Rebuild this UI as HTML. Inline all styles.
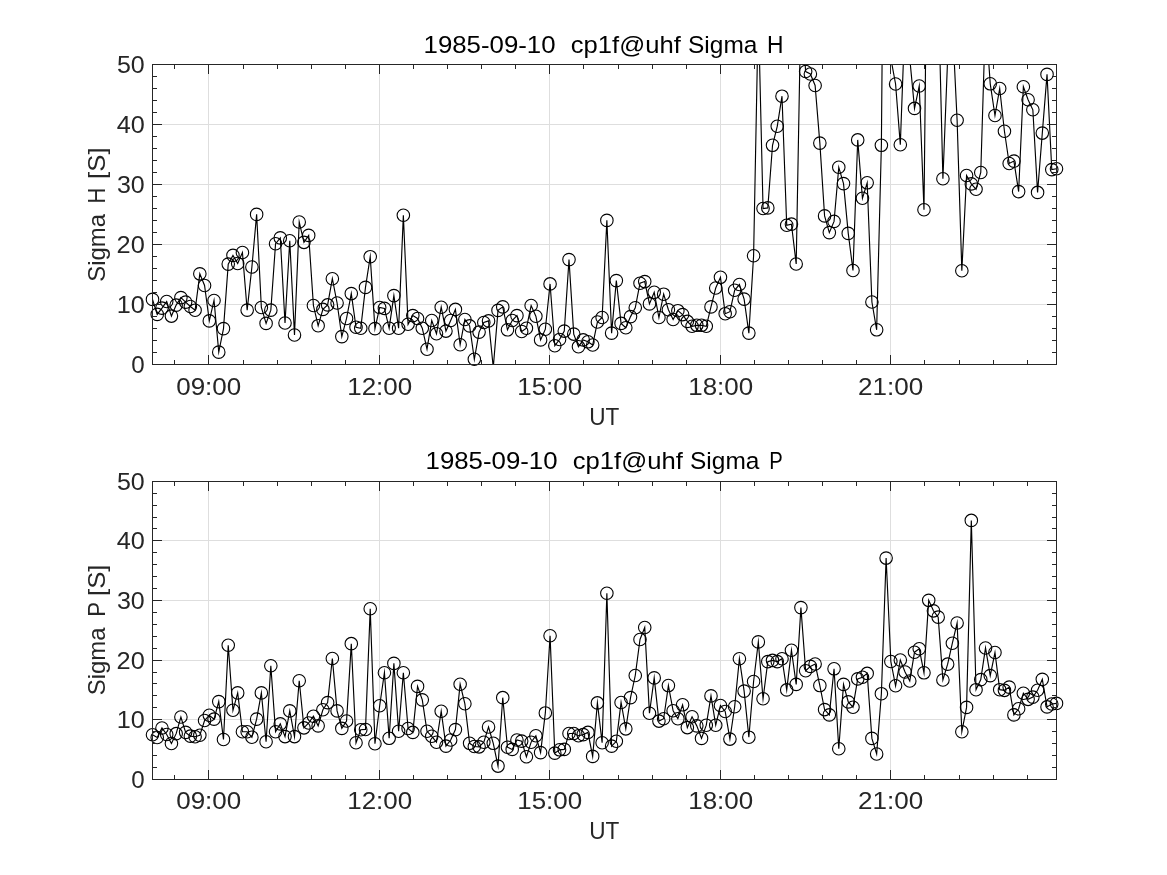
<!DOCTYPE html>
<html><head><meta charset="utf-8"><style>
html,body{margin:0;padding:0;background:#fff;}
svg{display:block;font-family:"Liberation Sans", sans-serif;will-change:transform;}
</style></head><body>
<svg width="1167" height="875" viewBox="0 0 1167 875">
<defs>
<clipPath id="c1"><rect x="152.5" y="64.5" width="904.0" height="300"/></clipPath>
<clipPath id="c2"><rect x="152.5" y="481.5" width="904.0" height="298"/></clipPath>
</defs>
<rect width="1167" height="875" fill="#fff"/>
<path d="M208.50 64.5V364.5M379.50 64.5V364.5M549.50 64.5V364.5M720.50 64.5V364.5M890.50 64.5V364.5M152.5 304.50H1056.5M152.5 244.50H1056.5M152.5 184.50H1056.5M152.5 124.50H1056.5" stroke="#dedede" stroke-width="1" fill="none"/>
<g clip-path="url(#c1)"><polyline points="152.50,299.40 157.23,314.40 161.97,308.10 166.70,301.50 171.43,316.08 176.16,305.10 180.90,297.60 185.63,302.10 190.36,306.48 195.10,310.20 199.83,273.84 204.56,285.48 209.30,320.88 214.03,300.48 218.76,352.14 223.49,328.62 228.23,264.12 232.96,255.36 237.69,263.52 242.43,252.48 247.16,310.14 251.89,267.06 256.63,214.38 261.36,307.44 266.09,323.40 270.82,310.14 275.56,243.72 280.29,237.90 285.02,322.98 289.76,240.78 294.49,334.98 299.22,221.94 303.96,242.34 308.69,235.38 313.42,305.52 318.15,325.68 322.89,309.42 327.62,304.92 332.35,278.70 337.09,303.00 341.82,336.60 346.55,318.48 351.29,293.58 356.02,327.30 360.75,328.20 365.48,287.40 370.22,256.68 374.95,328.62 379.68,307.44 384.42,308.40 389.15,328.20 393.88,295.62 398.62,328.20 403.35,215.22 408.08,324.30 412.81,315.60 417.55,318.48 422.28,328.20 427.01,349.20 431.75,320.52 436.48,333.72 441.21,307.20 445.95,331.08 450.68,320.52 455.41,309.42 460.14,344.70 464.88,319.50 469.61,325.92 474.34,359.28 479.08,332.10 483.81,322.50 488.54,320.88 493.27,367.50 498.01,310.38 502.74,306.90 507.47,329.82 512.21,320.52 516.94,315.60 521.67,331.50 526.41,328.20 531.14,305.52 535.87,316.20 540.60,339.90 545.34,329.22 550.07,283.92 554.80,345.72 559.54,339.48 564.27,331.08 569.00,259.62 573.74,334.08 578.47,346.68 583.20,339.90 587.93,341.82 592.67,345.00 597.40,322.02 602.13,317.52 606.87,220.38 611.60,333.12 616.33,280.62 621.07,323.40 625.80,327.78 630.53,316.62 635.26,307.80 640.00,283.20 644.73,281.58 649.46,303.90 654.20,292.32 658.93,317.52 663.66,294.18 668.40,309.78 673.13,319.50 677.86,310.68 682.59,314.58 687.33,321.42 692.06,326.28 696.79,325.32 701.53,325.32 706.26,326.28 710.99,306.90 715.73,288.00 720.46,277.32 725.19,313.68 729.92,311.70 734.66,290.28 739.39,284.52 744.12,299.10 748.86,333.12 753.59,255.78 758.32,10.50 763.05,208.50 767.79,207.90 772.52,145.32 777.25,126.30 781.99,96.18 786.72,225.30 791.45,224.10 796.19,264.00 800.92,4.50 805.65,71.52 810.38,73.98 815.12,85.50 819.85,143.10 824.58,215.88 829.32,232.62 834.05,221.40 838.78,167.28 843.52,183.60 848.25,233.40 852.98,270.48 857.71,139.92 862.45,198.30 867.18,182.82 871.91,301.98 876.65,329.82 881.38,145.32 886.11,-415.50 890.85,58.50 895.58,84.00 900.31,144.78 905.04,16.50 909.78,58.50 914.51,108.42 919.24,85.98 923.98,209.70 928.71,-235.50 933.44,-115.50 938.18,-13.50 942.91,178.80 947.64,58.50 952.37,22.50 957.11,120.30 961.84,270.78 966.57,175.50 971.31,183.90 976.04,189.30 980.77,172.50 985.51,16.50 990.24,83.82 994.97,115.50 999.70,88.50 1004.44,131.22 1009.17,163.50 1013.90,161.10 1018.64,191.58 1023.37,86.70 1028.10,99.72 1032.84,109.80 1037.57,192.42 1042.30,133.08 1047.03,74.40 1051.77,169.62 1056.50,168.72" fill="none" stroke="#000" stroke-width="1.15" stroke-linejoin="miter" stroke-miterlimit="10"/></g>
<g fill="none" stroke="#000" stroke-width="1.1"><circle cx="152.50" cy="299.40" r="6.25"/><circle cx="157.23" cy="314.40" r="6.25"/><circle cx="161.97" cy="308.10" r="6.25"/><circle cx="166.70" cy="301.50" r="6.25"/><circle cx="171.43" cy="316.08" r="6.25"/><circle cx="176.16" cy="305.10" r="6.25"/><circle cx="180.90" cy="297.60" r="6.25"/><circle cx="185.63" cy="302.10" r="6.25"/><circle cx="190.36" cy="306.48" r="6.25"/><circle cx="195.10" cy="310.20" r="6.25"/><circle cx="199.83" cy="273.84" r="6.25"/><circle cx="204.56" cy="285.48" r="6.25"/><circle cx="209.30" cy="320.88" r="6.25"/><circle cx="214.03" cy="300.48" r="6.25"/><circle cx="218.76" cy="352.14" r="6.25"/><circle cx="223.49" cy="328.62" r="6.25"/><circle cx="228.23" cy="264.12" r="6.25"/><circle cx="232.96" cy="255.36" r="6.25"/><circle cx="237.69" cy="263.52" r="6.25"/><circle cx="242.43" cy="252.48" r="6.25"/><circle cx="247.16" cy="310.14" r="6.25"/><circle cx="251.89" cy="267.06" r="6.25"/><circle cx="256.63" cy="214.38" r="6.25"/><circle cx="261.36" cy="307.44" r="6.25"/><circle cx="266.09" cy="323.40" r="6.25"/><circle cx="270.82" cy="310.14" r="6.25"/><circle cx="275.56" cy="243.72" r="6.25"/><circle cx="280.29" cy="237.90" r="6.25"/><circle cx="285.02" cy="322.98" r="6.25"/><circle cx="289.76" cy="240.78" r="6.25"/><circle cx="294.49" cy="334.98" r="6.25"/><circle cx="299.22" cy="221.94" r="6.25"/><circle cx="303.96" cy="242.34" r="6.25"/><circle cx="308.69" cy="235.38" r="6.25"/><circle cx="313.42" cy="305.52" r="6.25"/><circle cx="318.15" cy="325.68" r="6.25"/><circle cx="322.89" cy="309.42" r="6.25"/><circle cx="327.62" cy="304.92" r="6.25"/><circle cx="332.35" cy="278.70" r="6.25"/><circle cx="337.09" cy="303.00" r="6.25"/><circle cx="341.82" cy="336.60" r="6.25"/><circle cx="346.55" cy="318.48" r="6.25"/><circle cx="351.29" cy="293.58" r="6.25"/><circle cx="356.02" cy="327.30" r="6.25"/><circle cx="360.75" cy="328.20" r="6.25"/><circle cx="365.48" cy="287.40" r="6.25"/><circle cx="370.22" cy="256.68" r="6.25"/><circle cx="374.95" cy="328.62" r="6.25"/><circle cx="379.68" cy="307.44" r="6.25"/><circle cx="384.42" cy="308.40" r="6.25"/><circle cx="389.15" cy="328.20" r="6.25"/><circle cx="393.88" cy="295.62" r="6.25"/><circle cx="398.62" cy="328.20" r="6.25"/><circle cx="403.35" cy="215.22" r="6.25"/><circle cx="408.08" cy="324.30" r="6.25"/><circle cx="412.81" cy="315.60" r="6.25"/><circle cx="417.55" cy="318.48" r="6.25"/><circle cx="422.28" cy="328.20" r="6.25"/><circle cx="427.01" cy="349.20" r="6.25"/><circle cx="431.75" cy="320.52" r="6.25"/><circle cx="436.48" cy="333.72" r="6.25"/><circle cx="441.21" cy="307.20" r="6.25"/><circle cx="445.95" cy="331.08" r="6.25"/><circle cx="450.68" cy="320.52" r="6.25"/><circle cx="455.41" cy="309.42" r="6.25"/><circle cx="460.14" cy="344.70" r="6.25"/><circle cx="464.88" cy="319.50" r="6.25"/><circle cx="469.61" cy="325.92" r="6.25"/><circle cx="474.34" cy="359.28" r="6.25"/><circle cx="479.08" cy="332.10" r="6.25"/><circle cx="483.81" cy="322.50" r="6.25"/><circle cx="488.54" cy="320.88" r="6.25"/><circle cx="498.01" cy="310.38" r="6.25"/><circle cx="502.74" cy="306.90" r="6.25"/><circle cx="507.47" cy="329.82" r="6.25"/><circle cx="512.21" cy="320.52" r="6.25"/><circle cx="516.94" cy="315.60" r="6.25"/><circle cx="521.67" cy="331.50" r="6.25"/><circle cx="526.41" cy="328.20" r="6.25"/><circle cx="531.14" cy="305.52" r="6.25"/><circle cx="535.87" cy="316.20" r="6.25"/><circle cx="540.60" cy="339.90" r="6.25"/><circle cx="545.34" cy="329.22" r="6.25"/><circle cx="550.07" cy="283.92" r="6.25"/><circle cx="554.80" cy="345.72" r="6.25"/><circle cx="559.54" cy="339.48" r="6.25"/><circle cx="564.27" cy="331.08" r="6.25"/><circle cx="569.00" cy="259.62" r="6.25"/><circle cx="573.74" cy="334.08" r="6.25"/><circle cx="578.47" cy="346.68" r="6.25"/><circle cx="583.20" cy="339.90" r="6.25"/><circle cx="587.93" cy="341.82" r="6.25"/><circle cx="592.67" cy="345.00" r="6.25"/><circle cx="597.40" cy="322.02" r="6.25"/><circle cx="602.13" cy="317.52" r="6.25"/><circle cx="606.87" cy="220.38" r="6.25"/><circle cx="611.60" cy="333.12" r="6.25"/><circle cx="616.33" cy="280.62" r="6.25"/><circle cx="621.07" cy="323.40" r="6.25"/><circle cx="625.80" cy="327.78" r="6.25"/><circle cx="630.53" cy="316.62" r="6.25"/><circle cx="635.26" cy="307.80" r="6.25"/><circle cx="640.00" cy="283.20" r="6.25"/><circle cx="644.73" cy="281.58" r="6.25"/><circle cx="649.46" cy="303.90" r="6.25"/><circle cx="654.20" cy="292.32" r="6.25"/><circle cx="658.93" cy="317.52" r="6.25"/><circle cx="663.66" cy="294.18" r="6.25"/><circle cx="668.40" cy="309.78" r="6.25"/><circle cx="673.13" cy="319.50" r="6.25"/><circle cx="677.86" cy="310.68" r="6.25"/><circle cx="682.59" cy="314.58" r="6.25"/><circle cx="687.33" cy="321.42" r="6.25"/><circle cx="692.06" cy="326.28" r="6.25"/><circle cx="696.79" cy="325.32" r="6.25"/><circle cx="701.53" cy="325.32" r="6.25"/><circle cx="706.26" cy="326.28" r="6.25"/><circle cx="710.99" cy="306.90" r="6.25"/><circle cx="715.73" cy="288.00" r="6.25"/><circle cx="720.46" cy="277.32" r="6.25"/><circle cx="725.19" cy="313.68" r="6.25"/><circle cx="729.92" cy="311.70" r="6.25"/><circle cx="734.66" cy="290.28" r="6.25"/><circle cx="739.39" cy="284.52" r="6.25"/><circle cx="744.12" cy="299.10" r="6.25"/><circle cx="748.86" cy="333.12" r="6.25"/><circle cx="753.59" cy="255.78" r="6.25"/><circle cx="763.05" cy="208.50" r="6.25"/><circle cx="767.79" cy="207.90" r="6.25"/><circle cx="772.52" cy="145.32" r="6.25"/><circle cx="777.25" cy="126.30" r="6.25"/><circle cx="781.99" cy="96.18" r="6.25"/><circle cx="786.72" cy="225.30" r="6.25"/><circle cx="791.45" cy="224.10" r="6.25"/><circle cx="796.19" cy="264.00" r="6.25"/><circle cx="805.65" cy="71.52" r="6.25"/><circle cx="810.38" cy="73.98" r="6.25"/><circle cx="815.12" cy="85.50" r="6.25"/><circle cx="819.85" cy="143.10" r="6.25"/><circle cx="824.58" cy="215.88" r="6.25"/><circle cx="829.32" cy="232.62" r="6.25"/><circle cx="834.05" cy="221.40" r="6.25"/><circle cx="838.78" cy="167.28" r="6.25"/><circle cx="843.52" cy="183.60" r="6.25"/><circle cx="848.25" cy="233.40" r="6.25"/><circle cx="852.98" cy="270.48" r="6.25"/><circle cx="857.71" cy="139.92" r="6.25"/><circle cx="862.45" cy="198.30" r="6.25"/><circle cx="867.18" cy="182.82" r="6.25"/><circle cx="871.91" cy="301.98" r="6.25"/><circle cx="876.65" cy="329.82" r="6.25"/><circle cx="881.38" cy="145.32" r="6.25"/><circle cx="895.58" cy="84.00" r="6.25"/><circle cx="900.31" cy="144.78" r="6.25"/><circle cx="914.51" cy="108.42" r="6.25"/><circle cx="919.24" cy="85.98" r="6.25"/><circle cx="923.98" cy="209.70" r="6.25"/><circle cx="942.91" cy="178.80" r="6.25"/><circle cx="957.11" cy="120.30" r="6.25"/><circle cx="961.84" cy="270.78" r="6.25"/><circle cx="966.57" cy="175.50" r="6.25"/><circle cx="971.31" cy="183.90" r="6.25"/><circle cx="976.04" cy="189.30" r="6.25"/><circle cx="980.77" cy="172.50" r="6.25"/><circle cx="990.24" cy="83.82" r="6.25"/><circle cx="994.97" cy="115.50" r="6.25"/><circle cx="999.70" cy="88.50" r="6.25"/><circle cx="1004.44" cy="131.22" r="6.25"/><circle cx="1009.17" cy="163.50" r="6.25"/><circle cx="1013.90" cy="161.10" r="6.25"/><circle cx="1018.64" cy="191.58" r="6.25"/><circle cx="1023.37" cy="86.70" r="6.25"/><circle cx="1028.10" cy="99.72" r="6.25"/><circle cx="1032.84" cy="109.80" r="6.25"/><circle cx="1037.57" cy="192.42" r="6.25"/><circle cx="1042.30" cy="133.08" r="6.25"/><circle cx="1047.03" cy="74.40" r="6.25"/><circle cx="1051.77" cy="169.62" r="6.25"/><circle cx="1056.50" cy="168.72" r="6.25"/></g>
<path d="M152.5 64.5H1056.5V364.5H152.5V64.5M152.5 364.50h9M1056.5 364.50h-9M152.5 352.50h4M1056.5 352.50h-4M152.5 340.50h4M1056.5 340.50h-4M152.5 328.50h4M1056.5 328.50h-4M152.5 316.50h4M1056.5 316.50h-4M152.5 304.50h9M1056.5 304.50h-9M152.5 292.50h4M1056.5 292.50h-4M152.5 280.50h4M1056.5 280.50h-4M152.5 268.50h4M1056.5 268.50h-4M152.5 256.50h4M1056.5 256.50h-4M152.5 244.50h9M1056.5 244.50h-9M152.5 232.50h4M1056.5 232.50h-4M152.5 220.50h4M1056.5 220.50h-4M152.5 208.50h4M1056.5 208.50h-4M152.5 196.50h4M1056.5 196.50h-4M152.5 184.50h9M1056.5 184.50h-9M152.5 172.50h4M1056.5 172.50h-4M152.5 160.50h4M1056.5 160.50h-4M152.5 148.50h4M1056.5 148.50h-4M152.5 136.50h4M1056.5 136.50h-4M152.5 124.50h9M1056.5 124.50h-9M152.5 112.50h4M1056.5 112.50h-4M152.5 100.50h4M1056.5 100.50h-4M152.5 88.50h4M1056.5 88.50h-4M152.5 76.50h4M1056.5 76.50h-4M152.5 64.50h9M1056.5 64.50h-9M208.50 364.5v-9M208.50 64.5v9M379.50 364.5v-9M379.50 64.5v9M549.50 364.5v-9M549.50 64.5v9M720.50 364.5v-9M720.50 64.5v9M890.50 364.5v-9M890.50 64.5v9M174.50 364.5v-4M174.50 64.5v4M243.50 364.5v-4M243.50 64.5v4M277.50 364.5v-4M277.50 64.5v4M311.50 364.5v-4M311.50 64.5v4M345.50 364.5v-4M345.50 64.5v4M413.50 364.5v-4M413.50 64.5v4M447.50 364.5v-4M447.50 64.5v4M481.50 364.5v-4M481.50 64.5v4M515.50 364.5v-4M515.50 64.5v4M583.50 364.5v-4M583.50 64.5v4M618.50 364.5v-4M618.50 64.5v4M652.50 364.5v-4M652.50 64.5v4M686.50 364.5v-4M686.50 64.5v4M754.50 364.5v-4M754.50 64.5v4M788.50 364.5v-4M788.50 64.5v4M822.50 364.5v-4M822.50 64.5v4M856.50 364.5v-4M856.50 64.5v4M924.50 364.5v-4M924.50 64.5v4M959.50 364.5v-4M959.50 64.5v4M993.50 364.5v-4M993.50 64.5v4M1027.50 364.5v-4M1027.50 64.5v4" stroke="#262626" stroke-width="1" fill="none" stroke-linecap="square"/>
<text x="131.30" y="372.60" font-size="23.7" fill="#262626" textLength="13.43" lengthAdjust="spacingAndGlyphs">0</text>
<text x="116.76" y="312.60" font-size="23.7" fill="#262626" textLength="28.00" lengthAdjust="spacingAndGlyphs">10</text>
<text x="116.56" y="252.60" font-size="23.7" fill="#262626" textLength="28.21" lengthAdjust="spacingAndGlyphs">20</text>
<text x="116.95" y="192.60" font-size="23.7" fill="#262626" textLength="27.80" lengthAdjust="spacingAndGlyphs">30</text>
<text x="116.70" y="132.60" font-size="23.7" fill="#262626" textLength="28.07" lengthAdjust="spacingAndGlyphs">40</text>
<text x="116.93" y="72.60" font-size="23.7" fill="#262626" textLength="27.83" lengthAdjust="spacingAndGlyphs">50</text>
<text x="176.20" y="394.70" font-size="23.7" fill="#262626" textLength="64.99" lengthAdjust="spacingAndGlyphs">09:00</text>
<text x="347.24" y="394.70" font-size="23.7" fill="#262626" textLength="64.95" lengthAdjust="spacingAndGlyphs">12:00</text>
<text x="517.24" y="394.70" font-size="23.7" fill="#262626" textLength="64.95" lengthAdjust="spacingAndGlyphs">15:00</text>
<text x="688.24" y="394.70" font-size="23.7" fill="#262626" textLength="64.95" lengthAdjust="spacingAndGlyphs">18:00</text>
<text x="858.07" y="394.70" font-size="23.7" fill="#262626" textLength="65.12" lengthAdjust="spacingAndGlyphs">21:00</text>
<text x="589.26" y="424.60" font-size="23.7" fill="#262626" textLength="30.06" lengthAdjust="spacingAndGlyphs">UT</text>
<text x="423.55" y="52.70" font-size="23.7" fill="#000" textLength="132.02" lengthAdjust="spacingAndGlyphs">1985-09-10</text>
<text x="570.82" y="52.70" font-size="23.7" fill="#000" textLength="109.97" lengthAdjust="spacingAndGlyphs">cp1f@uhf</text>
<text x="688.07" y="52.70" font-size="23.7" fill="#000" textLength="69.30" lengthAdjust="spacingAndGlyphs">Sigma</text>
<text x="767.10" y="52.70" font-size="23.7" fill="#000" textLength="16.45" lengthAdjust="spacingAndGlyphs">H</text>
<text transform="rotate(-90)" x="-281.69" y="105.00" font-size="23.7" fill="#262626" textLength="67.79" lengthAdjust="spacingAndGlyphs">Sigma</text>
<text transform="rotate(-90)" x="-203.41" y="105.00" font-size="23.7" fill="#262626" textLength="15.90" lengthAdjust="spacingAndGlyphs">H</text>
<text transform="rotate(-90)" x="-178.93" y="105.00" font-size="23.7" fill="#262626" textLength="31.47" lengthAdjust="spacingAndGlyphs">[S]</text>
<path d="M208.50 481.5V779.5M379.50 481.5V779.5M549.50 481.5V779.5M720.50 481.5V779.5M890.50 481.5V779.5M152.5 719.50H1056.5M152.5 660.50H1056.5M152.5 600.50H1056.5M152.5 540.50H1056.5" stroke="#dedede" stroke-width="1" fill="none"/>
<g clip-path="url(#c2)"><polyline points="152.50,734.80 157.23,737.54 161.97,727.95 166.70,734.50 171.43,743.50 176.16,733.67 180.90,717.04 185.63,732.36 190.36,736.17 195.10,736.77 199.83,735.22 204.56,720.50 209.30,715.19 214.03,719.13 218.76,701.60 223.49,739.51 228.23,645.28 232.96,710.30 237.69,692.90 242.43,731.70 247.16,731.70 251.89,737.18 256.63,719.13 261.36,692.90 266.09,741.77 270.82,665.72 275.56,731.70 280.29,723.89 285.02,736.59 289.76,710.90 294.49,736.59 299.22,680.80 303.96,727.83 308.69,723.00 313.42,716.20 318.15,725.86 322.89,709.77 327.62,702.62 332.35,658.51 337.09,710.90 341.82,728.42 346.55,720.97 351.29,643.67 356.02,742.79 360.75,729.79 365.48,729.44 370.22,608.69 374.95,743.74 379.68,705.72 384.42,672.70 389.15,738.32 393.88,663.40 398.62,731.28 403.35,672.70 408.08,728.48 412.81,732.42 417.55,686.40 422.28,699.87 427.01,731.28 431.75,736.29 436.48,742.19 441.21,711.20 445.95,746.12 450.68,739.99 455.41,729.61 460.14,684.20 464.88,703.81 469.61,743.32 474.34,746.48 479.08,746.84 483.81,742.19 488.54,726.99 493.27,743.32 498.01,766.09 502.74,697.67 507.47,747.20 512.21,749.40 516.94,739.99 521.67,741.12 526.41,756.79 531.14,742.19 535.87,735.69 540.60,752.62 545.34,712.93 550.07,635.80 554.80,753.10 559.54,749.82 564.27,749.40 569.00,733.49 573.74,733.49 578.47,735.69 583.20,734.62 587.93,732.42 592.67,756.38 597.40,702.91 602.13,742.73 606.87,593.19 611.60,746.12 616.33,741.30 621.07,702.44 625.80,728.84 630.53,697.61 635.26,675.50 640.00,639.50 644.73,627.52 649.46,713.22 654.20,677.88 658.93,721.09 663.66,718.71 668.40,685.57 673.13,710.78 677.86,718.71 682.59,704.82 687.33,727.59 692.06,716.80 696.79,725.86 701.53,738.38 706.26,725.20 710.99,695.88 715.73,725.20 720.46,705.48 725.19,711.50 729.92,739.09 734.66,706.73 739.39,658.69 744.12,691.11 748.86,737.18 753.59,681.52 758.32,641.88 763.05,698.80 767.79,661.61 772.52,660.42 777.25,661.61 781.99,658.69 786.72,689.92 791.45,650.29 796.19,684.38 800.92,607.61 805.65,670.73 810.38,666.38 815.12,664.00 819.85,685.57 824.58,709.59 829.32,714.89 834.05,668.82 838.78,748.69 843.52,684.38 848.25,701.90 852.98,707.21 857.71,678.90 862.45,677.23 867.18,673.41 871.91,738.38 876.65,753.99 881.38,693.68 886.11,558.09 890.85,661.49 895.58,685.81 900.31,660.00 905.04,672.04 909.78,681.04 914.51,652.19 919.24,648.80 923.98,672.82 928.71,600.34 933.44,610.83 938.18,617.15 942.91,679.97 947.64,664.17 952.37,643.19 957.11,623.05 961.84,731.70 966.57,707.38 971.31,520.42 976.04,689.68 980.77,679.61 985.51,647.96 990.24,675.62 994.97,652.55 999.70,689.68 1004.44,690.34 1009.17,687.12 1013.90,714.89 1018.64,708.75 1023.37,693.20 1028.10,699.34 1032.84,697.13 1037.57,690.28 1042.30,679.37 1047.03,706.91 1051.77,703.99 1056.50,703.39" fill="none" stroke="#000" stroke-width="1.15" stroke-linejoin="miter" stroke-miterlimit="10"/></g>
<g fill="none" stroke="#000" stroke-width="1.1"><circle cx="152.50" cy="734.80" r="6.25"/><circle cx="157.23" cy="737.54" r="6.25"/><circle cx="161.97" cy="727.95" r="6.25"/><circle cx="166.70" cy="734.50" r="6.25"/><circle cx="171.43" cy="743.50" r="6.25"/><circle cx="176.16" cy="733.67" r="6.25"/><circle cx="180.90" cy="717.04" r="6.25"/><circle cx="185.63" cy="732.36" r="6.25"/><circle cx="190.36" cy="736.17" r="6.25"/><circle cx="195.10" cy="736.77" r="6.25"/><circle cx="199.83" cy="735.22" r="6.25"/><circle cx="204.56" cy="720.50" r="6.25"/><circle cx="209.30" cy="715.19" r="6.25"/><circle cx="214.03" cy="719.13" r="6.25"/><circle cx="218.76" cy="701.60" r="6.25"/><circle cx="223.49" cy="739.51" r="6.25"/><circle cx="228.23" cy="645.28" r="6.25"/><circle cx="232.96" cy="710.30" r="6.25"/><circle cx="237.69" cy="692.90" r="6.25"/><circle cx="242.43" cy="731.70" r="6.25"/><circle cx="247.16" cy="731.70" r="6.25"/><circle cx="251.89" cy="737.18" r="6.25"/><circle cx="256.63" cy="719.13" r="6.25"/><circle cx="261.36" cy="692.90" r="6.25"/><circle cx="266.09" cy="741.77" r="6.25"/><circle cx="270.82" cy="665.72" r="6.25"/><circle cx="275.56" cy="731.70" r="6.25"/><circle cx="280.29" cy="723.89" r="6.25"/><circle cx="285.02" cy="736.59" r="6.25"/><circle cx="289.76" cy="710.90" r="6.25"/><circle cx="294.49" cy="736.59" r="6.25"/><circle cx="299.22" cy="680.80" r="6.25"/><circle cx="303.96" cy="727.83" r="6.25"/><circle cx="308.69" cy="723.00" r="6.25"/><circle cx="313.42" cy="716.20" r="6.25"/><circle cx="318.15" cy="725.86" r="6.25"/><circle cx="322.89" cy="709.77" r="6.25"/><circle cx="327.62" cy="702.62" r="6.25"/><circle cx="332.35" cy="658.51" r="6.25"/><circle cx="337.09" cy="710.90" r="6.25"/><circle cx="341.82" cy="728.42" r="6.25"/><circle cx="346.55" cy="720.97" r="6.25"/><circle cx="351.29" cy="643.67" r="6.25"/><circle cx="356.02" cy="742.79" r="6.25"/><circle cx="360.75" cy="729.79" r="6.25"/><circle cx="365.48" cy="729.44" r="6.25"/><circle cx="370.22" cy="608.69" r="6.25"/><circle cx="374.95" cy="743.74" r="6.25"/><circle cx="379.68" cy="705.72" r="6.25"/><circle cx="384.42" cy="672.70" r="6.25"/><circle cx="389.15" cy="738.32" r="6.25"/><circle cx="393.88" cy="663.40" r="6.25"/><circle cx="398.62" cy="731.28" r="6.25"/><circle cx="403.35" cy="672.70" r="6.25"/><circle cx="408.08" cy="728.48" r="6.25"/><circle cx="412.81" cy="732.42" r="6.25"/><circle cx="417.55" cy="686.40" r="6.25"/><circle cx="422.28" cy="699.87" r="6.25"/><circle cx="427.01" cy="731.28" r="6.25"/><circle cx="431.75" cy="736.29" r="6.25"/><circle cx="436.48" cy="742.19" r="6.25"/><circle cx="441.21" cy="711.20" r="6.25"/><circle cx="445.95" cy="746.12" r="6.25"/><circle cx="450.68" cy="739.99" r="6.25"/><circle cx="455.41" cy="729.61" r="6.25"/><circle cx="460.14" cy="684.20" r="6.25"/><circle cx="464.88" cy="703.81" r="6.25"/><circle cx="469.61" cy="743.32" r="6.25"/><circle cx="474.34" cy="746.48" r="6.25"/><circle cx="479.08" cy="746.84" r="6.25"/><circle cx="483.81" cy="742.19" r="6.25"/><circle cx="488.54" cy="726.99" r="6.25"/><circle cx="493.27" cy="743.32" r="6.25"/><circle cx="498.01" cy="766.09" r="6.25"/><circle cx="502.74" cy="697.67" r="6.25"/><circle cx="507.47" cy="747.20" r="6.25"/><circle cx="512.21" cy="749.40" r="6.25"/><circle cx="516.94" cy="739.99" r="6.25"/><circle cx="521.67" cy="741.12" r="6.25"/><circle cx="526.41" cy="756.79" r="6.25"/><circle cx="531.14" cy="742.19" r="6.25"/><circle cx="535.87" cy="735.69" r="6.25"/><circle cx="540.60" cy="752.62" r="6.25"/><circle cx="545.34" cy="712.93" r="6.25"/><circle cx="550.07" cy="635.80" r="6.25"/><circle cx="554.80" cy="753.10" r="6.25"/><circle cx="559.54" cy="749.82" r="6.25"/><circle cx="564.27" cy="749.40" r="6.25"/><circle cx="569.00" cy="733.49" r="6.25"/><circle cx="573.74" cy="733.49" r="6.25"/><circle cx="578.47" cy="735.69" r="6.25"/><circle cx="583.20" cy="734.62" r="6.25"/><circle cx="587.93" cy="732.42" r="6.25"/><circle cx="592.67" cy="756.38" r="6.25"/><circle cx="597.40" cy="702.91" r="6.25"/><circle cx="602.13" cy="742.73" r="6.25"/><circle cx="606.87" cy="593.19" r="6.25"/><circle cx="611.60" cy="746.12" r="6.25"/><circle cx="616.33" cy="741.30" r="6.25"/><circle cx="621.07" cy="702.44" r="6.25"/><circle cx="625.80" cy="728.84" r="6.25"/><circle cx="630.53" cy="697.61" r="6.25"/><circle cx="635.26" cy="675.50" r="6.25"/><circle cx="640.00" cy="639.50" r="6.25"/><circle cx="644.73" cy="627.52" r="6.25"/><circle cx="649.46" cy="713.22" r="6.25"/><circle cx="654.20" cy="677.88" r="6.25"/><circle cx="658.93" cy="721.09" r="6.25"/><circle cx="663.66" cy="718.71" r="6.25"/><circle cx="668.40" cy="685.57" r="6.25"/><circle cx="673.13" cy="710.78" r="6.25"/><circle cx="677.86" cy="718.71" r="6.25"/><circle cx="682.59" cy="704.82" r="6.25"/><circle cx="687.33" cy="727.59" r="6.25"/><circle cx="692.06" cy="716.80" r="6.25"/><circle cx="696.79" cy="725.86" r="6.25"/><circle cx="701.53" cy="738.38" r="6.25"/><circle cx="706.26" cy="725.20" r="6.25"/><circle cx="710.99" cy="695.88" r="6.25"/><circle cx="715.73" cy="725.20" r="6.25"/><circle cx="720.46" cy="705.48" r="6.25"/><circle cx="725.19" cy="711.50" r="6.25"/><circle cx="729.92" cy="739.09" r="6.25"/><circle cx="734.66" cy="706.73" r="6.25"/><circle cx="739.39" cy="658.69" r="6.25"/><circle cx="744.12" cy="691.11" r="6.25"/><circle cx="748.86" cy="737.18" r="6.25"/><circle cx="753.59" cy="681.52" r="6.25"/><circle cx="758.32" cy="641.88" r="6.25"/><circle cx="763.05" cy="698.80" r="6.25"/><circle cx="767.79" cy="661.61" r="6.25"/><circle cx="772.52" cy="660.42" r="6.25"/><circle cx="777.25" cy="661.61" r="6.25"/><circle cx="781.99" cy="658.69" r="6.25"/><circle cx="786.72" cy="689.92" r="6.25"/><circle cx="791.45" cy="650.29" r="6.25"/><circle cx="796.19" cy="684.38" r="6.25"/><circle cx="800.92" cy="607.61" r="6.25"/><circle cx="805.65" cy="670.73" r="6.25"/><circle cx="810.38" cy="666.38" r="6.25"/><circle cx="815.12" cy="664.00" r="6.25"/><circle cx="819.85" cy="685.57" r="6.25"/><circle cx="824.58" cy="709.59" r="6.25"/><circle cx="829.32" cy="714.89" r="6.25"/><circle cx="834.05" cy="668.82" r="6.25"/><circle cx="838.78" cy="748.69" r="6.25"/><circle cx="843.52" cy="684.38" r="6.25"/><circle cx="848.25" cy="701.90" r="6.25"/><circle cx="852.98" cy="707.21" r="6.25"/><circle cx="857.71" cy="678.90" r="6.25"/><circle cx="862.45" cy="677.23" r="6.25"/><circle cx="867.18" cy="673.41" r="6.25"/><circle cx="871.91" cy="738.38" r="6.25"/><circle cx="876.65" cy="753.99" r="6.25"/><circle cx="881.38" cy="693.68" r="6.25"/><circle cx="886.11" cy="558.09" r="6.25"/><circle cx="890.85" cy="661.49" r="6.25"/><circle cx="895.58" cy="685.81" r="6.25"/><circle cx="900.31" cy="660.00" r="6.25"/><circle cx="905.04" cy="672.04" r="6.25"/><circle cx="909.78" cy="681.04" r="6.25"/><circle cx="914.51" cy="652.19" r="6.25"/><circle cx="919.24" cy="648.80" r="6.25"/><circle cx="923.98" cy="672.82" r="6.25"/><circle cx="928.71" cy="600.34" r="6.25"/><circle cx="933.44" cy="610.83" r="6.25"/><circle cx="938.18" cy="617.15" r="6.25"/><circle cx="942.91" cy="679.97" r="6.25"/><circle cx="947.64" cy="664.17" r="6.25"/><circle cx="952.37" cy="643.19" r="6.25"/><circle cx="957.11" cy="623.05" r="6.25"/><circle cx="961.84" cy="731.70" r="6.25"/><circle cx="966.57" cy="707.38" r="6.25"/><circle cx="971.31" cy="520.42" r="6.25"/><circle cx="976.04" cy="689.68" r="6.25"/><circle cx="980.77" cy="679.61" r="6.25"/><circle cx="985.51" cy="647.96" r="6.25"/><circle cx="990.24" cy="675.62" r="6.25"/><circle cx="994.97" cy="652.55" r="6.25"/><circle cx="999.70" cy="689.68" r="6.25"/><circle cx="1004.44" cy="690.34" r="6.25"/><circle cx="1009.17" cy="687.12" r="6.25"/><circle cx="1013.90" cy="714.89" r="6.25"/><circle cx="1018.64" cy="708.75" r="6.25"/><circle cx="1023.37" cy="693.20" r="6.25"/><circle cx="1028.10" cy="699.34" r="6.25"/><circle cx="1032.84" cy="697.13" r="6.25"/><circle cx="1037.57" cy="690.28" r="6.25"/><circle cx="1042.30" cy="679.37" r="6.25"/><circle cx="1047.03" cy="706.91" r="6.25"/><circle cx="1051.77" cy="703.99" r="6.25"/><circle cx="1056.50" cy="703.39" r="6.25"/></g>
<path d="M152.5 481.5H1056.5V779.5H152.5V481.5M152.5 779.50h9M1056.5 779.50h-9M152.5 767.50h4M1056.5 767.50h-4M152.5 755.50h4M1056.5 755.50h-4M152.5 743.50h4M1056.5 743.50h-4M152.5 731.50h4M1056.5 731.50h-4M152.5 719.50h9M1056.5 719.50h-9M152.5 707.50h4M1056.5 707.50h-4M152.5 695.50h4M1056.5 695.50h-4M152.5 683.50h4M1056.5 683.50h-4M152.5 672.50h4M1056.5 672.50h-4M152.5 660.50h9M1056.5 660.50h-9M152.5 648.50h4M1056.5 648.50h-4M152.5 636.50h4M1056.5 636.50h-4M152.5 624.50h4M1056.5 624.50h-4M152.5 612.50h4M1056.5 612.50h-4M152.5 600.50h9M1056.5 600.50h-9M152.5 588.50h4M1056.5 588.50h-4M152.5 576.50h4M1056.5 576.50h-4M152.5 564.50h4M1056.5 564.50h-4M152.5 552.50h4M1056.5 552.50h-4M152.5 540.50h9M1056.5 540.50h-9M152.5 528.50h4M1056.5 528.50h-4M152.5 517.50h4M1056.5 517.50h-4M152.5 505.50h4M1056.5 505.50h-4M152.5 493.50h4M1056.5 493.50h-4M152.5 481.50h9M1056.5 481.50h-9M208.50 779.5v-9M208.50 481.5v9M379.50 779.5v-9M379.50 481.5v9M549.50 779.5v-9M549.50 481.5v9M720.50 779.5v-9M720.50 481.5v9M890.50 779.5v-9M890.50 481.5v9M174.50 779.5v-4M174.50 481.5v4M243.50 779.5v-4M243.50 481.5v4M277.50 779.5v-4M277.50 481.5v4M311.50 779.5v-4M311.50 481.5v4M345.50 779.5v-4M345.50 481.5v4M413.50 779.5v-4M413.50 481.5v4M447.50 779.5v-4M447.50 481.5v4M481.50 779.5v-4M481.50 481.5v4M515.50 779.5v-4M515.50 481.5v4M583.50 779.5v-4M583.50 481.5v4M618.50 779.5v-4M618.50 481.5v4M652.50 779.5v-4M652.50 481.5v4M686.50 779.5v-4M686.50 481.5v4M754.50 779.5v-4M754.50 481.5v4M788.50 779.5v-4M788.50 481.5v4M822.50 779.5v-4M822.50 481.5v4M856.50 779.5v-4M856.50 481.5v4M924.50 779.5v-4M924.50 481.5v4M959.50 779.5v-4M959.50 481.5v4M993.50 779.5v-4M993.50 481.5v4M1027.50 779.5v-4M1027.50 481.5v4" stroke="#262626" stroke-width="1" fill="none" stroke-linecap="square"/>
<text x="131.30" y="787.60" font-size="23.7" fill="#262626" textLength="13.43" lengthAdjust="spacingAndGlyphs">0</text>
<text x="116.76" y="727.60" font-size="23.7" fill="#262626" textLength="28.00" lengthAdjust="spacingAndGlyphs">10</text>
<text x="116.56" y="668.60" font-size="23.7" fill="#262626" textLength="28.21" lengthAdjust="spacingAndGlyphs">20</text>
<text x="116.95" y="608.60" font-size="23.7" fill="#262626" textLength="27.80" lengthAdjust="spacingAndGlyphs">30</text>
<text x="116.70" y="548.60" font-size="23.7" fill="#262626" textLength="28.07" lengthAdjust="spacingAndGlyphs">40</text>
<text x="116.93" y="489.60" font-size="23.7" fill="#262626" textLength="27.83" lengthAdjust="spacingAndGlyphs">50</text>
<text x="176.20" y="808.80" font-size="23.7" fill="#262626" textLength="64.99" lengthAdjust="spacingAndGlyphs">09:00</text>
<text x="347.24" y="808.80" font-size="23.7" fill="#262626" textLength="64.95" lengthAdjust="spacingAndGlyphs">12:00</text>
<text x="517.24" y="808.80" font-size="23.7" fill="#262626" textLength="64.95" lengthAdjust="spacingAndGlyphs">15:00</text>
<text x="688.24" y="808.80" font-size="23.7" fill="#262626" textLength="64.95" lengthAdjust="spacingAndGlyphs">18:00</text>
<text x="858.07" y="808.80" font-size="23.7" fill="#262626" textLength="65.12" lengthAdjust="spacingAndGlyphs">21:00</text>
<text x="589.26" y="838.80" font-size="23.7" fill="#262626" textLength="30.06" lengthAdjust="spacingAndGlyphs">UT</text>
<text x="425.55" y="468.60" font-size="23.7" fill="#000" textLength="132.02" lengthAdjust="spacingAndGlyphs">1985-09-10</text>
<text x="572.82" y="468.60" font-size="23.7" fill="#000" textLength="109.97" lengthAdjust="spacingAndGlyphs">cp1f@uhf</text>
<text x="690.07" y="468.60" font-size="23.7" fill="#000" textLength="69.30" lengthAdjust="spacingAndGlyphs">Sigma</text>
<text x="769.31" y="468.60" font-size="23.7" fill="#000" textLength="13.51" lengthAdjust="spacingAndGlyphs">P</text>
<text transform="rotate(-90)" x="-695.19" y="105.00" font-size="23.7" fill="#262626" textLength="67.79" lengthAdjust="spacingAndGlyphs">Sigma</text>
<text transform="rotate(-90)" x="-616.82" y="105.00" font-size="23.7" fill="#262626" textLength="14.79" lengthAdjust="spacingAndGlyphs">P</text>
<text transform="rotate(-90)" x="-596.03" y="105.00" font-size="23.7" fill="#262626" textLength="31.47" lengthAdjust="spacingAndGlyphs">[S]</text>
</svg>
</body></html>
